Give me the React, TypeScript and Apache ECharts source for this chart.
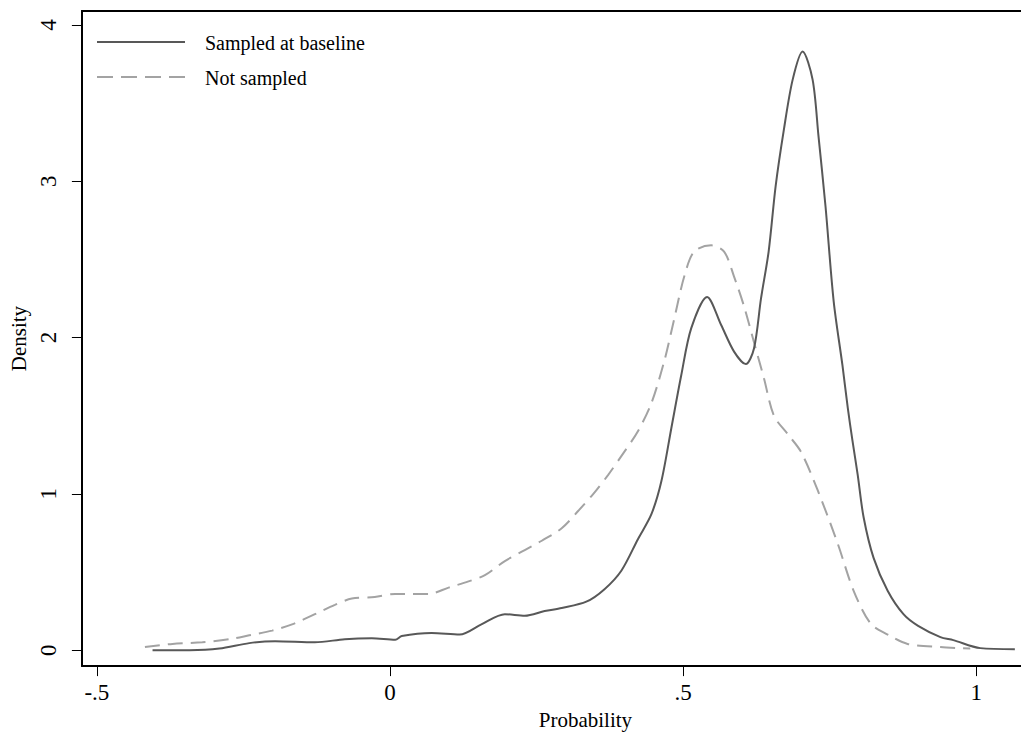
import React, { useEffect, useRef } from "react";
import * as echarts from "echarts";

const sampledX = [-0.405, -0.342, -0.291, -0.24, -0.196, -0.128, -0.077, -0.031, 0.009, 0.02, 0.071, 0.119, 0.156, 0.196, 0.23, 0.264, 0.293, 0.335, 0.366, 0.395, 0.423, 0.446, 0.463, 0.48, 0.497, 0.514, 0.541, 0.565, 0.587, 0.607, 0.621, 0.633, 0.646, 0.658, 0.672, 0.687, 0.704, 0.721, 0.731, 0.743, 0.757, 0.772, 0.781, 0.789, 0.798, 0.808, 0.825, 0.849, 0.876, 0.901, 0.939, 0.961, 1.007, 1.066];
const sampledY = [0.0, 0.0, 0.01, 0.045, 0.057, 0.05, 0.07, 0.076, 0.066, 0.09, 0.11, 0.1, 0.165, 0.23, 0.22, 0.25, 0.27, 0.31, 0.39, 0.51, 0.71, 0.87, 1.08, 1.42, 1.76, 2.06, 2.26, 2.08, 1.91, 1.83, 1.93, 2.25, 2.55, 2.97, 3.33, 3.65, 3.83, 3.65, 3.29, 2.84, 2.23, 1.82, 1.55, 1.34, 1.12, 0.85, 0.59, 0.38, 0.23, 0.155, 0.083, 0.064, 0.013, 0.006];

const notSampledX = [-0.418, -0.371, -0.32, -0.274, -0.24, -0.201, -0.167, -0.128, -0.094, -0.065, -0.026, 0.009, 0.066, 0.1, 0.134, 0.162, 0.196, 0.23, 0.259, 0.293, 0.321, 0.347, 0.372, 0.4, 0.423, 0.446, 0.468, 0.485, 0.502, 0.519, 0.548, 0.57, 0.587, 0.604, 0.621, 0.638, 0.655, 0.679, 0.701, 0.73, 0.764, 0.791, 0.82, 0.849, 0.883, 0.939, 0.99];
const notSampledY = [0.02, 0.04, 0.05, 0.07, 0.095, 0.125, 0.165, 0.23, 0.29, 0.33, 0.34, 0.36, 0.36, 0.4, 0.44, 0.48, 0.57, 0.64, 0.7, 0.78, 0.89, 1.0, 1.12, 1.27, 1.4, 1.58, 1.85, 2.12, 2.39, 2.55, 2.59, 2.55, 2.39, 2.2, 1.97, 1.74, 1.5, 1.38, 1.27, 1.02, 0.68, 0.38, 0.17, 0.1, 0.04, 0.02, 0.01];

const xTicks = [-0.5, 0, 0.5, 1];
const yTicks = [0, 1, 2, 3, 4];
const seriesNames = ["Sampled at baseline", "Not sampled"];

const FONT = "'Liberation Serif', 'DejaVu Serif', serif";
const SOLID = "#585858";
const DASHED = "#a3a3a3";
const X_MIN = -0.5255;
const X_MAX = 1.0765;

function fmtX(v: number): string {
  if (v === 0) return "0";
  if (v === 1) return "1";
  return String(v).replace("0.", ".");
}

export default function App() {
  const ref = useRef<HTMLDivElement>(null);
  useEffect(() => {
    if (!ref.current) return;
    const chart = echarts.init(ref.current, null, { renderer: "svg" });
    const zip = (xs: number[], ys: number[]) => xs.map((x, i) => [x, ys[i]]);
    chart.setOption({
      animation: false,
      backgroundColor: "#fff",
      grid: { left: 78, right: 0, top: 11, bottom: 66, show: false },
      xAxis: [
        {
          type: "value",
          min: X_MIN,
          max: X_MAX,
          name: "Probability",
          nameLocation: "middle",
          nameGap: 40,
          nameTextStyle: { fontFamily: FONT, fontSize: 21, color: "#000", padding: [0, 0, 0, 68] },
          splitLine: { show: false },
          axisLine: { show: true, onZero: false, lineStyle: { color: "#000", width: 2 } },
          axisTick: {
            show: true,
            inside: false,
            length: 10,
            lineStyle: { color: "#000", width: 1 },
            customValues: xTicks,
          },
          axisLabel: {
            fontFamily: FONT,
            fontSize: 23,
            color: "#000",
            margin: 15,
            customValues: xTicks,
            formatter: (v: number) => fmtX(v),
          },
        },
        {
          type: "value",
          position: "top",
          min: X_MIN,
          max: X_MAX,
          splitLine: { show: false },
          axisLine: { show: true, onZero: false, lineStyle: { color: "#000", width: 2 } },
          axisTick: { show: false },
          axisLabel: { show: false },
        },
      ],
      yAxis: {
        type: "value",
        min: -0.102,
        max: 4.089,
        name: "Density",
        nameLocation: "middle",
        nameGap: 52,
        nameTextStyle: { fontFamily: FONT, fontSize: 21, color: "#000" },
        splitLine: { show: false },
        axisLine: { show: true, onZero: false, lineStyle: { color: "#000", width: 2 } },
        axisTick: {
          show: true,
          inside: false,
          length: 10,
          lineStyle: { color: "#000", width: 1 },
          customValues: yTicks,
        },
        axisLabel: {
          fontFamily: FONT,
          fontSize: 23,
          color: "#000",
          rotate: 90,
          margin: 22,
          customValues: yTicks,
        },
      },
      graphic: [
        { type: "line", shape: { x1: 97, y1: 42, x2: 185, y2: 42 }, style: { stroke: SOLID, lineWidth: 2 } },
        { type: "text", x: 205, y: 43, style: { text: seriesNames[0], fontFamily: FONT, fontSize: 20, fill: "#000", verticalAlign: "middle" } },
        { type: "line", shape: { x1: 97, y1: 77, x2: 185, y2: 77 }, style: { stroke: DASHED, lineWidth: 2, lineDash: [16, 8] } },
        { type: "text", x: 205, y: 78, style: { text: seriesNames[1], fontFamily: FONT, fontSize: 20, fill: "#000", verticalAlign: "middle" } },
      ],
      series: [
        {
          name: seriesNames[0],
          type: "line",
          xAxisIndex: 0,
          data: zip(sampledX, sampledY),
          showSymbol: false,
          smooth: 0.3,
          lineStyle: { color: SOLID, width: 2 },
          z: 3,
        },
        {
          name: seriesNames[1],
          type: "line",
          xAxisIndex: 0,
          data: zip(notSampledX, notSampledY),
          showSymbol: false,
          smooth: 0.3,
          lineStyle: { color: DASHED, width: 2, type: [15, 8] },
          z: 2,
        },
      ],
    });
    return () => chart.dispose();
  }, []);
  return <div ref={ref} style={{ width: 1021, height: 735, position: "absolute", left: 0, top: 0 }} />;
}
